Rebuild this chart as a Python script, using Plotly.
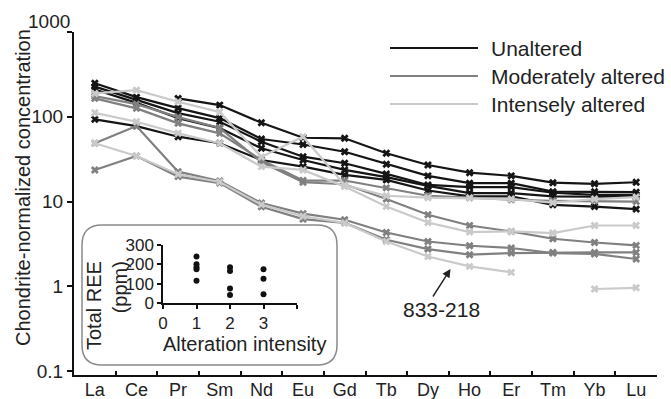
import plotly.graph_objects as go

elements = ["La", "Ce", "Pr", "Sm", "Nd", "Eu", "Gd", "Tb", "Dy", "Ho", "Er", "Tm", "Yb", "Lu"]

# Chondrite-normalized REE concentrations
unaltered_1 = [None, None, 164.7, 137.3, 85.0, 56.6, 55.7, 37.1, 27.0, 21.9, 20.1, 16.7, 16.2, 16.9]
unaltered_2 = [249, 170.5, 126.6, 96.5, 54.7, 47.1, 38.7, 27.6, 20.1, 16.5, 16.5, 13.1, 13.1, 12.9]
unaltered_3 = [226.6, 157.2, 110.5, 87.3, 50.8, 33.8, 28.3, 21.2, 15.7, 14.8, 14.8, 12.7, 12.0, 12.0]
unaltered_4 = [210, 146, 96.5, 73.6, 42.5, 30.9, 23.6, 19.4, 15.3, 12.6, 12.6, 11.5, 11.4, 11.4]
unaltered_5 = [93.2, 77.7, 58.2, 48.7, 30.9, 25.8, 20.6, 18.0, 13.5, 11.5, 11.5, 9.15, 8.73, 8.14]

moderate_1 = [175.2, 141.1, 99.2, 73.6, 29.3, 16.9, 16.0, 10.7, 6.98, 5.22, 4.44, 3.64, 3.29, 3.04]
moderate_2 = [164.7, 125.6, 83.6, 63.8, 30.9, 17.7, 17.7, 14.5, 11.7, 11.1, 10.5, 10.2, 10.2, 10.0]
moderate_3 = [48.7, 77.7, 22.5, 17.5, 9.6, 7.2, 6.1, 4.32, 3.38, 3.01, 2.83, 2.47, 2.41, 2.10]
moderate_4 = [23.6, 34.5, 19.7, 16.5, 8.7, 6.2, 5.6, 3.54, 2.75, 2.36, 2.47, 2.51, 2.51, 2.51]

intense_1 = [188.5, 206, 150.2, 113.6, 33.6, 58.2, 15.7, 11.7, 11.1, 11.0, 10.7, 9.7, 10.7, 11.3]
intense_2 = [111.4, 87.3, 63.8, 48.7, 25.8, 23.6, 15.0, 8.73, 5.66, 4.37, 4.44, 4.25, 5.22, 5.22]
intense_3 = [48.7, 34.5, 21.0, 17.0, 9.2, 6.7, 5.6, 3.38, 2.25, 1.72, 1.46, None, 0.93, 0.96]

# Inset: total REE vs alteration intensity
inset_intensity = [1, 1, 1, 1, 1, 2, 2, 2, 2, 3, 3, 3]
inset_total_ree = [240, 200, 185, 175, 115, 185, 165, 75, 42, 175, 125, 45]

y_ticks = [0.1, 1, 10, 100, 1000]
y_tick_text = ["0.1", "1", "10", "100", ""]

groups = [
    ("Unaltered", "#151515", [unaltered_1, unaltered_2, unaltered_3, unaltered_4, unaltered_5]),
    ("Moderately altered", "#808080", [moderate_1, moderate_2, moderate_3, moderate_4]),
    ("Intensely altered", "#cacaca", [intense_1, intense_2, intense_3]),
]

FONT = "Liberation Sans, Arial, Helvetica, sans-serif"
W, H = 671, 399
X0, X1 = 74, 657
Y0, Y1 = 32, 375


def px(x):
    return (x - X0) / (X1 - X0)


def py(y):
    return (Y1 - y) / (Y1 - Y0)


fig = go.Figure()

for name, color, series in groups:
    for s in series:
        fig.add_trace(go.Scatter(
            x=elements, y=s, mode="lines+markers", name=name,
            line=dict(color=color, width=2.2),
            marker=dict(symbol="x", size=7, color=color),
            connectgaps=False, showlegend=False, hoverinfo="skip",
        ))

fig.add_trace(go.Scatter(
    x=inset_intensity, y=inset_total_ree, mode="markers",
    marker=dict(symbol="circle", size=6, color="#111111"),
    xaxis="x2", yaxis="y2", showlegend=False, hoverinfo="skip",
))

shapes = []
annotations = []


def label(x, y, text, size=21, **kw):
    d = dict(xref="paper", yref="paper", x=px(x), y=py(y), text=text, showarrow=False,
             xanchor="center", yanchor="middle",
             font=dict(family=FONT, size=size, color="#222222"))
    d.update(kw)
    annotations.append(d)


# legend
legend_rows = [(48, "Unaltered", "#151515"), (76, "Moderately altered", "#808080"),
               (104, "Intensely altered", "#cacaca")]
for ly, txt, col in legend_rows:
    shapes.append(dict(type="line", xref="paper", yref="paper",
                       x0=px(390), x1=px(478), y0=py(ly), y1=py(ly),
                       line=dict(color=col, width=2)))
    label(489, ly, txt, 21, xanchor="left")

# inset rounded box
bx0, bx1, by0, by1 = 82, 337, 225, 365
r = 20
rx = r / (X1 - X0)
ry = r / (Y1 - Y0)
L, R, T, B = px(bx0), px(bx1), py(by0), py(by1)
path = (f"M {L+rx},{T} L {R-rx},{T} Q {R},{T} {R},{T-ry} L {R},{B+ry} Q {R},{B} {R-rx},{B} "
        f"L {L+rx},{B} Q {L},{B} {L},{B+ry} L {L},{T-ry} Q {L},{T} {L+rx},{T} Z")
shapes.append(dict(type="path", xref="paper", yref="paper", path=path,
                   line=dict(color="#8a8a8a", width=1.5), fillcolor="rgba(255,255,255,0)",
                   layer="below"))

# y-axis title
label(23, 188, "Chondrite-normalized concentration", 20, textangle=-90)
# top tick label
label(72, 22, "1000", 19, xanchor="right")
# inset titles
label(107, 306, "Total REE<br>(ppm)", 20, textangle=-90, align="right")
label(244, 344, "Alteration intensity", 20)
# sample label and arrow
annotations.append(dict(xref="paper", yref="paper", x=px(450.5), y=py(269),
                        ax=432 - 450.5, ay=298 - 269,
                        text="", showarrow=True, arrowhead=2, arrowsize=1.2,
                        arrowwidth=1.4, arrowcolor="#222222"))
label(441, 309, "833-218", 21)

fig.update_layout(
    width=W, height=H,
    margin=dict(l=X0, r=W - X1, t=Y0, b=H - Y1, pad=0, autoexpand=False),
    paper_bgcolor="white", plot_bgcolor="white",
    font=dict(family=FONT, size=19, color="#222222"),
    showlegend=False,
    xaxis=dict(type="category", categoryorder="array", categoryarray=elements,
               range=[-0.5, 13.5], tickson="boundaries", ticks="inside", ticklen=4,
               tickwidth=1.5, tickcolor="#111111", showline=True, linewidth=2,
               linecolor="#111111", showgrid=False, zeroline=False, automargin=False,
               ticklabelstandoff=-3,
               tickfont=dict(family=FONT, size=18, color="#222222")),
    yaxis=dict(type="log", range=[-1.046, 3], tickvals=y_ticks, ticktext=y_tick_text,
               ticks="outside", ticklen=5, tickwidth=1.5, tickcolor="#111111",
               showline=True, linewidth=2, linecolor="#111111", showgrid=False,
               zeroline=False, automargin=False,
               tickfont=dict(family=FONT, size=19, color="#222222")),
    xaxis2=dict(domain=[px(163), px(297)], anchor="y2", range=[0, 4],
                tickvals=[0, 1, 2, 3, 4], ticktext=["0", "1", "2", "3", ""],
                ticks="outside", ticklen=4, tickwidth=1.5, showline=True, linewidth=1.5,
                linecolor="#111111", tickcolor="#111111", showgrid=False, zeroline=False,
                automargin=False, tickfont=dict(family=FONT, size=17, color="#222222")),
    yaxis2=dict(domain=[py(303), py(245)], anchor="x2", range=[0, 300],
                tickvals=[0, 100, 200, 300], ticks="outside", ticklen=4, tickwidth=1.5,
                showline=True, linewidth=1.5, linecolor="#111111", tickcolor="#111111",
                showgrid=False, zeroline=False, automargin=False,
                tickfont=dict(family=FONT, size=17, color="#222222")),
    shapes=shapes, annotations=annotations,
)

fig.write_html("out.html")
